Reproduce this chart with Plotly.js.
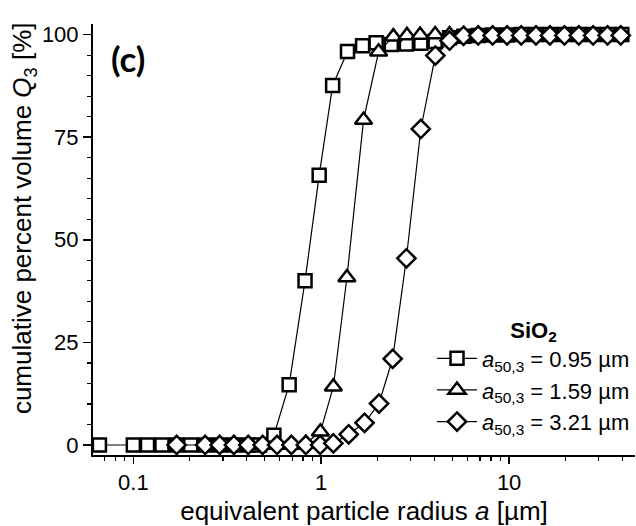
<!DOCTYPE html>
<html>
<head>
<meta charset="utf-8">
<script src="https://cdn.plot.ly/plotly-3.0.1.min.js"></script>
<style>html,body{margin:0;padding:0;background:#fff;}#chart{width:636px;height:526px;}</style>
</head>
<body>
<div id="chart"></div>
<script>
// equivalent particle radius a [µm] and cumulative volume Q3 [%]
var sqX = [0.066, 0.1, 0.119, 0.142, 0.17, 0.202, 0.241, 0.288, 0.343, 0.409, 0.47, 0.56, 0.675, 0.82, 0.975, 1.15, 1.38, 1.66, 1.96, 2.36, 2.84, 3.39, 4.04, 4.82, 5.75, 6.85, 8.17, 9.75, 11.6, 13.9, 16.5, 19.7, 23.5, 28.0, 33.4, 39.8];
var sqY = [0, 0, 0, 0, 0, 0, 0, 0, 0, 0, 0, 2.4, 14.7, 40.0, 65.7, 87.6, 95.9, 97.3, 98.0, 97.6, 97.7, 97.9, 98.3, 99.2, 99.6, 99.8, 99.9, 99.9, 100, 100, 100, 100, 100, 100, 100, 100];

var triX = [0.288, 0.343, 0.409, 0.488, 0.582, 0.694, 0.828, 0.99, 1.16, 1.37, 1.68, 2.02, 2.42, 2.86, 3.36, 4.04, 4.82, 5.75, 6.85, 8.17, 9.75, 11.6, 13.9, 16.5, 19.7, 23.5, 28.0, 33.4];
var triY = [0, 0, 0, 0, 0, 0, 0.4, 3.2, 14.2, 40.8, 79.2, 95.8, 99.5, 99.8, 99.9, 100, 100, 100, 100, 100, 100, 100, 100, 100, 100, 100, 100, 100];

var diaX = [0.17, 0.241, 0.288, 0.343, 0.409, 0.488, 0.582, 0.694, 0.828, 0.987, 1.16, 1.40, 1.70, 2.03, 2.40, 2.84, 3.39, 4.05, 4.82, 5.72, 6.85, 8.17, 9.75, 11.6, 13.9, 16.5, 19.7, 23.5, 28.0, 33.4, 39.3];
var diaY = [0, 0, 0, 0, 0, 0, 0, 0, 0, 0, 0.4, 2.6, 5.4, 10.1, 21.0, 45.5, 77.0, 94.9, 98.5, 99.7, 99.8, 99.8, 99.8, 99.8, 99.8, 99.8, 99.8, 99.8, 99.8, 99.8, 99.8];

var seriesNames = ['<i>a</i><sub>50,3</sub> = 0.95 µm', '<i>a</i><sub>50,3</sub> = 1.59 µm', '<i>a</i><sub>50,3</sub> = 3.21 µm'];
var legendTitle = '<b>SiO<sub>2</sub></b>';
var panelLabel = '(c)';
var xTickVals = [0.1, 1, 10];
var xTickText = ['0.1', '1', '10'];
var xMinorVals = [0.07, 0.08, 0.09, 0.2, 0.3, 0.4, 0.5, 0.6, 0.7, 0.8, 0.9, 2, 3, 4, 5, 6, 7, 8, 9, 20, 30, 40];
var yTickVals = [0, 25, 50, 75, 100];

var FONT = 'Liberation Sans, Arial, sans-serif';

function mk(x, y, name, symbol, size) {
  return {
    x: x, y: y, name: name, type: 'scatter', mode: 'lines+markers',
    line: {color: '#000', width: 1.2},
    marker: {symbol: symbol, size: size, color: '#fff', line: {color: '#000', width: 2.5}},
    xaxis: 'x', yaxis: 'y', cliponaxis: false
  };
}

var data = [
  mk(sqX, sqY, seriesNames[0], 'square', 13),
  mk(triX, triY, seriesNames[1], 'triangle-up', 15),
  mk(diaX, diaY, seriesNames[2], 'diamond', 14)
];

var xr = [Math.log10(0.061), 1.670];
var yr = [-2.44, 102.58];

var layout = {
  width: 636, height: 526,
  margin: {l: 93, r: 1, t: 24, b: 71},
  paper_bgcolor: '#fff', plot_bgcolor: '#fff',
  font: {family: FONT, size: 22, color: '#000'},
  showlegend: true,
  xaxis: {
    type: 'log', range: xr, anchor: 'y',
    tickmode: 'array', tickvals: xTickVals, ticktext: xTickText,
    ticks: 'outside', ticklen: 7, tickwidth: 1.5, tickcolor: '#000',
    minor: {tickmode: 'array', tickvals: xMinorVals, ticks: 'outside', ticklen: 4, tickwidth: 1.2, tickcolor: '#000', showgrid: false},
    showline: true, linecolor: '#000', linewidth: 2, showgrid: false, zeroline: false,
    tickfont: {family: FONT, size: 22},
    title: {text: 'equivalent particle radius <i>a</i> [µm]', font: {family: FONT, size: 26}, standoff: 7}
  },
  xaxis2: {
    type: 'log', range: xr, overlaying: 'x', side: 'top', anchor: 'y',
    tickmode: 'array', tickvals: xTickVals, showticklabels: false,
    ticks: 'inside', ticklen: 7, tickwidth: 1.5, tickcolor: '#000',
    minor: {tickmode: 'array', tickvals: xMinorVals, ticks: 'inside', ticklen: 4, tickwidth: 1.2, tickcolor: '#000', showgrid: false},
    showline: true, linecolor: '#000', linewidth: 2, showgrid: false, zeroline: false
  },
  yaxis: {
    range: yr, anchor: 'x',
    tickmode: 'array', tickvals: yTickVals,
    ticks: 'outside', ticklen: 8, tickwidth: 1.5, tickcolor: '#000',
    minor: {dtick: 5, ticks: 'outside', ticklen: 4, tickwidth: 1.2, tickcolor: '#000', showgrid: false},
    showline: true, linecolor: '#000', linewidth: 2, showgrid: false, zeroline: false,
    tickfont: {family: FONT, size: 22}
  },
  yaxis2: {
    range: yr, overlaying: 'y', side: 'right', anchor: 'x',
    tickmode: 'array', tickvals: yTickVals, showticklabels: false,
    ticks: 'inside', ticklen: 8, tickwidth: 1.5, tickcolor: '#000',
    minor: {dtick: 5, ticks: 'inside', ticklen: 4, tickwidth: 1.2, tickcolor: '#000', showgrid: false},
    showline: true, linecolor: '#000', linewidth: 2, showgrid: false, zeroline: false
  },
  legend: {
    x: 1.0, xanchor: 'right', y: 0.028, yanchor: 'bottom',
    bgcolor: 'rgba(0,0,0,0)', borderwidth: 0,
    font: {family: FONT, size: 22, color: '#000'},
    title: {text: legendTitle, side: 'top center', font: {family: FONT, size: 22}},
    itemwidth: 40, tracegroupgap: 0
  },
  annotations: [
    {text: 'cumulative percent volume <i>Q</i><sub>3</sub> [%]', textangle: -90,
     xref: 'paper', yref: 'paper', x: -0.127, y: 0.55, xanchor: 'center', yanchor: 'middle',
     showarrow: false, font: {family: FONT, size: 26, color: '#000'}},
    {text: '<b>' + panelLabel + '</b>', xref: 'paper', yref: 'paper', x: 0.064, y: 0.92,
     xanchor: 'center', yanchor: 'middle', showarrow: false,
     font: {family: 'Lato, Open Sans, sans-serif', size: 35, color: '#000'}}
  ]
};

Plotly.newPlot('chart', data, layout, {staticPlot: true, displayModeBar: false});
</script>
</body>
</html>
